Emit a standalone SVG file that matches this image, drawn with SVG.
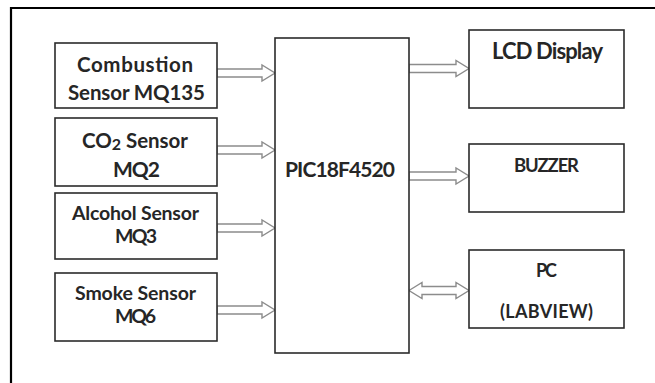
<svg xmlns="http://www.w3.org/2000/svg" width="655" height="383" viewBox="0 0 655 383">
<style>
.box{fill:#fff;stroke:#2b2b2b;stroke-width:1.6}
.t{font-family:Lato,"Open Sans","Liberation Sans",sans-serif;font-weight:bold;fill:#262626;text-anchor:middle}
.arr{fill:#fff;stroke:#8c8c8c;stroke-width:1.4;stroke-linejoin:miter}
</style>
<rect width="655" height="383" fill="#fff"/>
<path d="M11,383 V8 H655" fill="none" stroke="#000" stroke-width="2.2"/>
<g id="connectors">
<polygon class="arr" points="217,69 262,69 262,65 275,73 262,81 262,77 217,77"/>
<polygon class="arr" points="217,146 262,146 262,142 275,150 262,158 262,154 217,154"/>
<polygon class="arr" points="217,224 262,224 262,220 275,228 262,236 262,232 217,232"/>
<polygon class="arr" points="217,306 262,306 262,302 275,310 262,318 262,314 217,314"/>
<polygon class="arr" points="409,64.5 456,64.5 456,60.5 469,68.5 456,76.5 456,72.5 409,72.5"/>
<polygon class="arr" points="409,172 456,172 456,168 469,176 456,184 456,180 409,180"/>
<polygon class="arr" points="409,290.5 422,282.5 422,286.5 456,286.5 456,282.5 469,290.5 456,298.5 456,294.5 422,294.5 422,298.5"/>
</g>
<g id="combustion">
<rect class="box" x="55" y="43" width="162" height="65"/>
<text class="t" x="135" y="72" font-size="20.5" textLength="116">Combustion</text>
<text class="t" x="136.5" y="100" font-size="20.5" textLength="137">Sensor MQ135</text>
</g>
<g id="co2">
<rect class="box" x="55" y="118" width="162" height="68"/>
<text class="t" x="135" y="148" font-size="20.5" textLength="106">CO<tspan font-size="16" dy="2">2</tspan><tspan dy="-2"> Sensor</tspan></text>
<text class="t" x="136.5" y="177" font-size="21" textLength="47">MQ2</text>
</g>
<g id="alcohol">
<rect class="box" x="55" y="193" width="162" height="66"/>
<text class="t" x="135.5" y="220" font-size="19.5" textLength="127">Alcohol Sensor</text>
<text class="t" x="136" y="243" font-size="19.5" textLength="42">MQ3</text>
</g>
<g id="smoke">
<rect class="box" x="55" y="273" width="162" height="68"/>
<text class="t" x="135.5" y="300" font-size="19.5" textLength="121">Smoke Sensor</text>
<text class="t" x="135.5" y="323" font-size="19.5" textLength="41">MQ6</text>
</g>
<g id="pic">
<rect class="box" x="275" y="38" width="134" height="315"/>
<text class="t" x="340" y="177" font-size="21" textLength="110">PIC18F4520</text>
</g>
<g id="lcd">
<rect class="box" x="469" y="30" width="155" height="78"/>
<text class="t" x="547.5" y="59" font-size="22" textLength="111">LCD Display</text>
</g>
<g id="buzzer">
<rect class="box" x="469" y="144" width="155" height="68"/>
<text class="t" x="546.5" y="172" font-size="18.5" textLength="65">BUZZER</text>
</g>
<g id="pc">
<rect class="box" x="469" y="250" width="155" height="78"/>
<text class="t" x="546.5" y="277" font-size="18" textLength="21">PC</text>
<text class="t" x="546.5" y="318" font-size="18" textLength="93">(LABVIEW)</text>
</g>
</svg>
